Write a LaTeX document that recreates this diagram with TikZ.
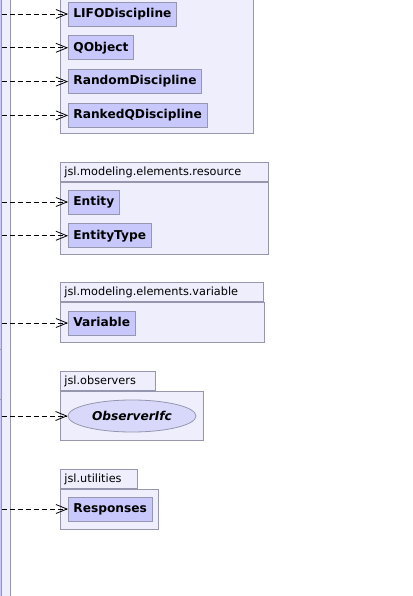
\documentclass[tikz,border=0pt]{standalone}
\usepackage{fontspec}
\setmainfont{DejaVu Sans}
\usetikzlibrary{arrows.meta,positioning,shapes.geometric}

\definecolor{clsfill}{RGB}{200,200,252}
\definecolor{ifcfill}{RGB}{216,216,250}
\definecolor{pkgfill}{RGB}{238,238,253}
\definecolor{umlline}{RGB}{150,150,175}

\tikzset{
  pkg/.style={draw=umlline,fill=pkgfill,line width=0.8pt},
  tab/.style={pkg,anchor=south west,inner xsep=4pt,inner ysep=0pt,minimum height=19pt,
    text width=#1,align=left,text height=9pt,text depth=2.5pt,font=\fontsize{11.3}{13}\selectfont},
  cls/.style={draw=umlline,fill=clsfill,line width=0.8pt,anchor=west,inner xsep=5pt,
    minimum height=24pt,text height=9pt,text depth=2.5pt,font=\bfseries\fontsize{12.2}{14}\selectfont},
  ifc/.style={ellipse,draw=umlline,fill=ifcfill,line width=0.8pt,
    minimum width=128pt,minimum height=32pt,font=\bfseries\itshape\fontsize{12.2}{14}\selectfont},
  dep/.style={->,dash pattern=on 5pt off 3pt,line width=0.8pt},
}

\begin{document}
\begin{tikzpicture}[x=1pt,y=-1pt,>={Straight Barb[length=11pt,width=9pt]},node distance=9pt]
\useasboundingbox (0,0) rectangle (412,596);

% model side (cut at the left edge)
\path[pkg] (-20,-10) rectangle (10,606);
\node[draw=umlline,fill=clsfill,line width=0.8pt,minimum width=30pt,minimum height=620pt,
  inner sep=0pt,anchor=east] (model) at (2,298) {};
\draw[umlline,line width=0.8pt] (-28,349) -- (2,349);
\draw[umlline,line width=0.8pt] (-28,399) -- (2,399);

% queue package
\path[pkg] (60,-10) rectangle (253,133);
\node[cls] (lifo) at (68,14) {LIFODiscipline};
\node[cls] (qobject) [below=of lifo.south west,anchor=north west] {QObject};
\node[cls] (random) [below=of qobject.south west,anchor=north west] {RandomDiscipline};
\node[cls] (ranked) [below=of random.south west,anchor=north west] {RankedQDiscipline};

% resource package
\node[tab=200pt] (restab) at (60,182) {jsl.modeling.elements.resource};
\path[pkg] (60,182) rectangle (268,254);
\node[cls] (entity) at (68,202) {Entity};
\node[cls] (entitytype) [below=of entity.south west,anchor=north west] {EntityType};

% variable package
\node[tab=195pt] (vartab) at (60,302) {jsl.modeling.elements.variable};
\path[pkg] (60,302) rectangle (264,342);
\node[cls] (variable) at (68,323) {Variable};

% observers package
\node[tab=87pt] (obstab) at (60,391) {jsl.observers};
\path[pkg] (60,391) rectangle (203,440);
\node[ifc] (observer) at (132,416) {ObserverIfc};

% utilities package
\node[tab=69pt] (utiltab) at (60,489) {jsl.utilities};
\path[pkg] (60,489) rectangle (158,529);
\node[cls] (responses) at (68,509) {Responses};

% dependencies
\foreach \dst in {lifo,qobject,random,ranked,entity,entitytype,variable,observer,responses}
  \draw[dep] (\dst.west -| model.east) -- (\dst.west);

\end{tikzpicture}
\end{document}
